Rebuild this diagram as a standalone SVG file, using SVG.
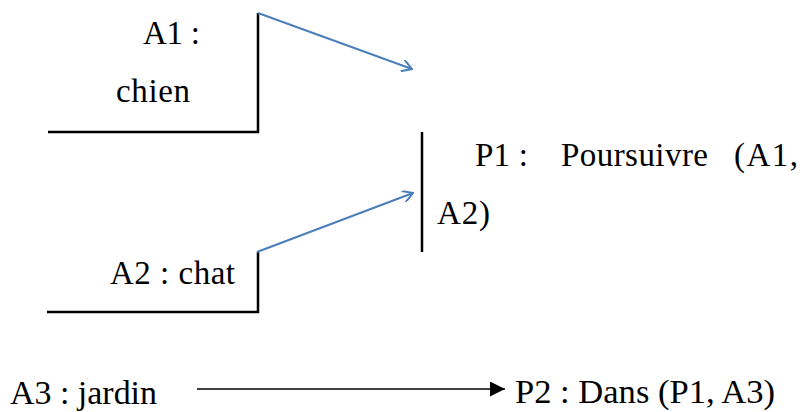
<svg xmlns="http://www.w3.org/2000/svg" width="806" height="412" viewBox="0 0 806 412">
<style>
text{font-family:"Liberation Serif","Times New Roman",serif;font-size:33px;fill:#000}
.bk{stroke:#000;stroke-width:2.5;fill:none}
.bl{stroke:#4A7EBB;stroke-width:2;fill:none}
</style>
<defs>
<marker id="open" viewBox="0 0 12 12" refX="11" refY="6" markerWidth="12" markerHeight="12" markerUnits="userSpaceOnUse" orient="auto"><path d="M1,0 L11,6 L1,12" fill="none" stroke="#4A7EBB" stroke-width="2"/></marker>
<marker id="solid" viewBox="0 0 15 15" refX="15" refY="7.5" markerWidth="15" markerHeight="15" markerUnits="userSpaceOnUse" orient="auto"><path d="M0,0 L15,7.5 L0,15 Z" fill="#000"/></marker>
</defs>
<g id="A1">
<path class="bk" d="M48,132 H258 V13"/>
<text x="143" y="44" textLength="57">A1 :</text>
<text x="116" y="102" textLength="74">chien</text>
</g>
<g id="A2">
<path class="bk" d="M47,312 H258 V252"/>
<text x="110" y="284" textLength="125">A2 : chat</text>
</g>
<g id="P1">
<path class="bk" d="M422,132 V252"/>
<text x="475" y="166" textLength="53">P1 :</text>
<text x="561" y="166" textLength="147">Poursuivre</text>
<text x="734" y="166" textLength="64">(A1,</text>
<text x="437" y="224" textLength="53">A2)</text>
</g>
<g id="A3">
<text x="10" y="404" textLength="147" lengthAdjust="spacingAndGlyphs">A3 : jardin</text>
</g>
<g id="P2">
<text x="515" y="403" textLength="260" lengthAdjust="spacingAndGlyphs">P2 : Dans (P1, A3)</text>
</g>
<g id="connectors">
<line class="bl" x1="258" y1="13" x2="412" y2="69" marker-end="url(#open)"/>
<line class="bl" x1="257" y1="252" x2="413" y2="193" marker-end="url(#open)"/>
<line stroke="#000" stroke-width="1.5" x1="197" y1="389" x2="505" y2="389" marker-end="url(#solid)"/>
</g>
</svg>
